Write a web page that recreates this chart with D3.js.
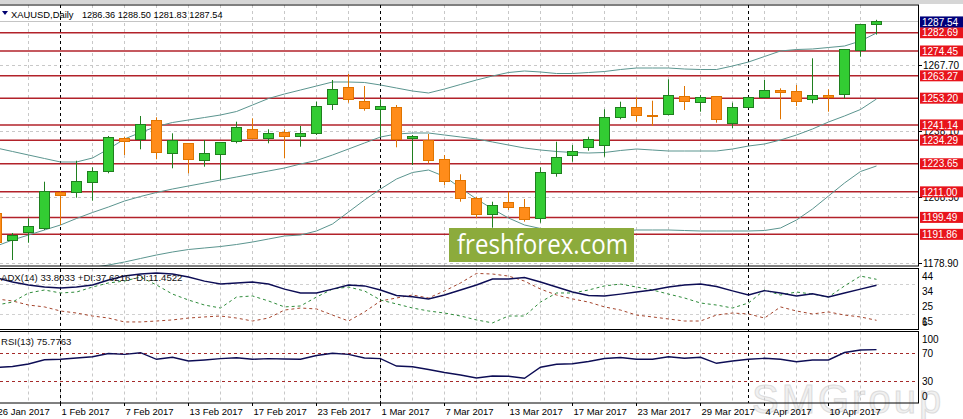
<!DOCTYPE html>
<html><head><meta charset="utf-8">
<script src="https://cdn.jsdelivr.net/npm/d3@7"></script>
<style>body{margin:0;background:#fff;overflow:hidden}svg{display:block}text{font-family:"Liberation Sans",Arial,sans-serif}</style>
</head><body><svg id="c" width="963" height="419"></svg>
<script>
const symbol = "XAUUSD,Daily";
const dates = ["2017-01-26","2017-01-27","2017-01-30","2017-01-31","2017-02-01","2017-02-02","2017-02-03","2017-02-06","2017-02-07","2017-02-08","2017-02-09","2017-02-10","2017-02-13","2017-02-14","2017-02-15","2017-02-16","2017-02-17","2017-02-20","2017-02-21","2017-02-22","2017-02-23","2017-02-24","2017-02-27","2017-02-28","2017-03-01","2017-03-02","2017-03-03","2017-03-06","2017-03-07","2017-03-08","2017-03-09","2017-03-10","2017-03-13","2017-03-14","2017-03-15","2017-03-16","2017-03-17","2017-03-20","2017-03-21","2017-03-22","2017-03-23","2017-03-24","2017-03-27","2017-03-28","2017-03-29","2017-03-30","2017-03-31","2017-04-03","2017-04-04","2017-04-05","2017-04-06","2017-04-07","2017-04-10","2017-04-11","2017-04-12","2017-04-13"];
const open  = [1201.47,1189.00,1192.60,1194.27,1210.62,1210.80,1215.30,1220.08,1235.12,1234.36,1242.92,1228.37,1232.87,1225.03,1228.05,1233.59,1239.18,1235.12,1237.82,1235.84,1237.37,1250.44,1257.92,1251.92,1248.19,1249.09,1235.03,1233.91,1225.35,1215.89,1208.10,1200.89,1206.29,1204.04,1199.09,1219.36,1227.60,1231.07,1232.10,1244.58,1249.09,1245.30,1245.93,1253.86,1251.34,1253.86,1241.88,1249.09,1253.41,1256.56,1256.43,1252.69,1254.31,1254.63,1274.58,1286.36];
const high  = [1202.83,1192.47,1199.09,1215.57,1211.38,1225.03,1222.06,1236.16,1235.84,1245.17,1244.58,1237.37,1233.00,1234.36,1233.46,1242.60,1244.13,1239.18,1239.18,1240.66,1251.61,1261.38,1264.09,1258.68,1252.69,1250.12,1236.61,1237.06,1227.60,1218.91,1208.82,1206.56,1211.07,1207.78,1222.06,1233.59,1232.10,1235.84,1248.19,1251.61,1253.59,1252.06,1261.70,1258.68,1254.63,1254.18,1251.16,1253.86,1261.38,1257.64,1259.13,1271.16,1257.19,1275.35,1286.61,1288.50];
const low   = [1186.61,1180.30,1188.09,1193.82,1196.07,1208.37,1207.01,1219.36,1227.60,1230.17,1225.66,1221.61,1219.36,1222.33,1216.34,1232.87,1234.81,1232.87,1226.11,1231.34,1236.61,1247.87,1251.16,1247.55,1235.84,1231.07,1223.10,1223.86,1214.09,1206.56,1199.09,1194.85,1202.83,1197.56,1197.10,1217.83,1224.58,1229.54,1226.83,1243.68,1242.60,1240.66,1245.48,1247.87,1247.10,1242.15,1239.63,1248.64,1253.14,1243.68,1249.67,1250.89,1247.10,1253.14,1271.88,1281.83];
const close = [1188.41,1191.56,1195.30,1211.07,1209.45,1215.57,1220.08,1235.57,1233.59,1241.56,1228.64,1233.91,1225.35,1228.37,1233.14,1240.08,1235.12,1237.37,1235.84,1237.37,1249.67,1257.19,1252.69,1248.64,1249.67,1234.36,1235.71,1225.03,1215.57,1208.10,1200.89,1204.63,1204.04,1198.64,1219.63,1226.56,1229.09,1234.36,1244.58,1249.09,1245.30,1245.03,1254.31,1251.92,1253.59,1243.37,1249.09,1253.41,1256.56,1255.98,1251.92,1254.31,1253.59,1274.90,1286.61,1287.54];
const bbUpper  = [1230.75,1229.18,1227.60,1226.02,1224.45,1224.45,1226.25,1230.30,1234.81,1237.74,1240.44,1242.24,1243.37,1244.49,1245.62,1247.19,1250.12,1253.05,1255.08,1256.88,1258.68,1260.48,1260.48,1260.26,1259.13,1257.78,1256.43,1255.53,1257.33,1259.36,1261.38,1263.19,1264.76,1265.44,1264.99,1264.31,1264.31,1264.76,1265.21,1266.11,1266.79,1266.79,1266.79,1266.34,1266.11,1266.11,1267.69,1269.49,1271.97,1274.45,1275.12,1275.35,1276.02,1276.70,1278.95,1282.56];
const bbMiddle = [1186.61,1189.31,1191.56,1193.82,1196.07,1199.00,1201.70,1204.18,1206.88,1208.91,1210.71,1212.28,1213.64,1214.99,1216.34,1217.69,1219.04,1220.39,1221.74,1223.55,1225.12,1227.60,1230.30,1233.01,1235.71,1237.06,1237.51,1237.51,1236.61,1235.71,1234.81,1233.46,1232.10,1230.75,1229.85,1229.18,1228.73,1228.50,1228.73,1229.63,1230.30,1229.85,1229.40,1229.40,1229.40,1229.40,1230.30,1231.65,1232.56,1234.36,1236.61,1239.31,1242.47,1245.17,1248.10,1252.83];
const bbLower  = [1162.28,1165.89,1169.04,1171.74,1174.00,1175.80,1176.92,1178.05,1179.40,1180.98,1182.56,1183.91,1185.03,1185.71,1186.38,1187.28,1188.41,1189.76,1191.11,1191.56,1193.37,1196.52,1201.92,1207.33,1212.28,1216.79,1219.72,1220.84,1217.92,1212.74,1207.78,1203.28,1199.22,1196.07,1194.49,1193.82,1193.14,1192.92,1192.92,1193.37,1193.82,1193.82,1193.82,1193.59,1193.37,1193.37,1193.37,1193.37,1193.59,1194.72,1198.32,1203.28,1209.13,1214.99,1220.17,1222.65];
const adx     = [38.5,35.9,34.0,32.7,32.1,32.7,34.0,37.2,39.7,41.0,41.65,41.0,39.1,36.5,34.6,35.3,35.9,34.6,31.4,28.9,28.9,31.4,34.0,33.4,30.8,27.3,26.5,25.1,27.6,30.8,34.0,37.8,37.8,38.8,35.9,32.7,29.5,27.3,27.0,28.2,29.5,30.8,32.7,34.0,34.6,33.0,30.2,27.6,30.4,28.9,27.0,28.4,26.3,28.9,31.4,33.8033];
const plusDI  = [21.2,23.1,28.9,30.8,28.9,29.5,32.7,35.3,36.5,39.1,34.0,28.2,24.4,21.2,19.3,26.3,27.0,23.8,20.0,20.6,26.3,31.4,32.7,30.2,24.4,21.9,19.3,17.4,16.1,14.2,11.7,9.8,14.2,14.2,23.1,28.9,28.9,30.8,33.4,34.6,32.7,30.8,28.2,25.7,22.5,21.2,19.3,22.5,30.8,27.6,29.5,28.2,26.3,33.4,39.7,37.6216];
const minusDI = [25.1,23.8,21.2,20.0,17.4,16.1,14.2,12.9,10.4,10.4,11.0,11.7,12.9,13.6,14.2,12.9,11.0,12.9,18.0,19.3,18.7,14.8,11.0,16.8,23.8,25.7,27.6,25.7,30.2,35.3,41.4,41.0,39.7,36.5,31.4,27.6,25.1,23.1,20.0,18.0,14.8,13.6,12.3,11.0,11.0,14.8,16.1,15.5,12.9,20.0,17.4,15.5,16.8,14.8,13.6,11.4522];
const rsi     = [50.3,51.7,55.3,61.3,62.0,63.9,65.7,70.3,69.1,71.4,62.0,64.9,59.6,61.0,62.9,64.3,62.0,62.9,62.4,62.0,67.4,70.6,69.1,63.9,62.9,52.4,51.4,47.4,43.1,39.6,35.3,38.1,37.7,34.9,50.6,54.9,55.7,58.9,63.1,64.6,62.0,62.0,65.7,63.4,64.9,56.3,59.6,62.0,63.4,62.0,58.6,61.0,61.0,71.7,75.3,75.7763];
const levels     = [1282.69,1274.45,1263.27,1253.20,1241.14,1234.29,1223.65,1211.00,1199.49,1191.86];
const priceTicks = [1267.70,1238.10,1208.50,1178.90];
const adxTicks   = [44,34,25,15];
const adxGrid    = [34,15];
const adxMinLabel = "6";
const rsiTicks   = [100,70,30,0];
const rsiLevels  = [70,30];

const svg = d3.select("#c");
const n = dates.length;
const R = 918;
const parse = d3.timeParse("%Y-%m-%d");
const fmt = d3.timeFormat("%-d %b %Y");
const x = d3.scalePoint().domain(dates).range([-3.5, -3.5 + 16*(n-1)]);
const main = {t:5, b:266}, pA = {t:268.5, b:329.5}, pR = {t:331.5, b:403};
const yP = d3.scaleLinear().domain([1177.60,1295.17]).range([266,5]);
const yA = d3.scaleLinear().domain([5.58,44.21]).range([329.5,269]);
const yR = d3.scaleLinear().domain([0,100]).range([402.7,332.7]);
const cr = v => Math.round(v - 0.5) + 0.5;

svg.append("rect").attr("x",0).attr("y",0).attr("width",963).attr("height",4).attr("fill","#d6d6d6");

// SMGroup watermark (behind everything)
svg.append("text").attr("x",752).attr("y",413).style("font-size","40px").style("letter-spacing","3px")
  .attr("fill","#f1f1f1").attr("stroke","#dcdcdc").attr("stroke-width",1).text("SMGroup");

const defs = svg.append("defs");
[["cm",main],["ca",pA],["crs",pR]].forEach(([id,p])=>{
  defs.append("clipPath").attr("id",id).append("rect").attr("x",0).attr("y",p.t).attr("width",R).attr("height",p.b-p.t);
});

// vertical grid across all panels
const grid = svg.append("g");
dates.forEach((d,i)=>{
  if(i%2===0){
    [main,pA,pR].forEach(p=>grid.append("line").attr("x1",x(d)).attr("x2",x(d)).attr("y1",p.t).attr("y2",p.b)
      .attr("stroke","#c8c8c8").attr("stroke-dasharray","3,3"));
  }
});
priceTicks.forEach(v=>grid.append("line").attr("x1",0).attr("x2",R).attr("y1",cr(yP(v))).attr("y2",cr(yP(v)))
  .attr("stroke","#c8c8c8").attr("stroke-dasharray","3,3"));
adxGrid.forEach(v=>grid.append("line").attr("x1",0).attr("x2",R).attr("y1",cr(yA(v))).attr("y2",cr(yA(v)))
  .attr("stroke","#d0d0d0").attr("stroke-dasharray","3,3"));
// bid line
grid.append("line").attr("x1",0).attr("x2",R).attr("y1",cr(yP(close[n-1]))).attr("y2",cr(yP(close[n-1])))
  .attr("stroke","#c4c4c4");

// month separators
const sep = svg.append("g");
dates.forEach((d,i)=>{
  if(i>0 && parse(d).getMonth()!==parse(dates[i-1]).getMonth()){
    sep.append("line").attr("x1",x(d)).attr("x2",x(d)).attr("y1",main.t).attr("y2",pR.b)
      .attr("stroke","#000").attr("stroke-dasharray","3,3");
  }
});

// level lines
const gm = svg.append("g").attr("clip-path","url(#cm)");
levels.forEach(v=>gm.append("line").attr("x1",0).attr("x2",R).attr("y1",yP(v)).attr("y2",yP(v))
  .attr("stroke","#b2222a").attr("stroke-width",1.5));

// bollinger
const idx = d3.range(n);
const lineP = arr => d3.line().x(i=>x(dates[i])).y(i=>yP(arr[i]))(idx);
[bbUpper,bbMiddle,bbLower].forEach(arr=>gm.append("path").attr("d",lineP(arr)).attr("fill","none")
  .attr("stroke","#5b958f").attr("stroke-width",1));

// candles
idx.forEach(i=>{
  const up = close[i] >= open[i];
  const cx = x(dates[i]);
  const stroke = up ? "#1f7f1f" : "#e07400";
  const fill = up ? "#33cc33" : "#ff8c1a";
  gm.append("line").attr("x1",cx).attr("x2",cx).attr("y1",yP(high[i])).attr("y2",yP(low[i])).attr("stroke",stroke);
  const y1 = cr(yP(Math.max(open[i],close[i]))), y2 = cr(yP(Math.min(open[i],close[i])));
  gm.append("rect").attr("x",cx-5).attr("y",y1).attr("width",10).attr("height",Math.max(1,y2-y1))
    .attr("fill",fill).attr("stroke",stroke);
});

// freshforex watermark
svg.append("rect").attr("x",449).attr("y",228).attr("width",185).attr("height",34).attr("fill","#8cab3c");
svg.append("text").attr("x",457).attr("y",254).attr("fill","#fff").style("font-family","'Open Sans',sans-serif")
  .style("font-size","27px").attr("textLength",171).attr("lengthAdjust","spacingAndGlyphs").text("freshforex.com");

// header
svg.append("path").attr("d","M2,11 L8,11 L5,15 Z").attr("fill","#000070");
svg.append("text").attr("x",11).attr("y",17.5).style("font-size","9.4px").attr("fill","#000").text(symbol);
svg.append("text").attr("x",82).attr("y",17.5).style("font-size","9.2px").attr("fill","#000")
  .text([open,high,low,close].map(a=>a[n-1].toFixed(2)).join(" "));

// ADX panel
const ga = svg.append("g").attr("clip-path","url(#ca)");
const lineA = arr => d3.line().x(i=>x(dates[i])).y(i=>yA(arr[i]))(idx);
ga.append("path").attr("d",lineA(minusDI)).attr("fill","none").attr("stroke","#a5452d").attr("stroke-dasharray","3,3");
ga.append("path").attr("d",lineA(plusDI)).attr("fill","none").attr("stroke","#2e8b3a").attr("stroke-dasharray","3,3");
ga.append("path").attr("d",lineA(adx)).attr("fill","none").attr("stroke","#0d0d55").attr("stroke-width",1.4);
svg.append("text").attr("x",1).attr("y",280.5).style("font-size","9.6px").attr("fill","#111")
  .text(`ADX(14) ${adx[n-1].toFixed(4)} +DI:${plusDI[n-1].toFixed(4)} -DI:${minusDI[n-1].toFixed(4)}`);

// RSI panel
const gr = svg.append("g").attr("clip-path","url(#crs)");
rsiLevels.forEach(v=>gr.append("line").attr("x1",0).attr("x2",R).attr("y1",cr(yR(v))).attr("y2",cr(yR(v)))
  .attr("stroke","#a52a2a").attr("stroke-dasharray","3,3"));
gr.append("path").attr("d",d3.line().x(i=>x(dates[i])).y(i=>yR(rsi[i]))(idx)).attr("fill","none")
  .attr("stroke","#0d0d55").attr("stroke-width",1.4);
svg.append("text").attr("x",1).attr("y",344.5).style("font-size","9.6px").attr("fill","#111")
  .text(`RSI(13) ${rsi[n-1].toFixed(4)}`);

// frames
[main,pA,pR].forEach(p=>{
  svg.append("rect").attr("x",-1).attr("y",p.t).attr("width",R+1.5).attr("height",p.b-p.t)
    .attr("fill","none").attr("stroke","#000");
});

// right axis
const ax = svg.append("g").style("font-size","10px");
priceTicks.forEach(v=>{
  const yy = cr(yP(v));
  ax.append("line").attr("x1",R).attr("x2",R+4).attr("y1",yy).attr("y2",yy).attr("stroke","#000");
  ax.append("text").attr("x",923).attr("y",yy+3.5).attr("fill","#000").text(v.toFixed(2));
});
levels.forEach(v=>{
  const yy = yP(v);
  ax.append("rect").attr("x",920).attr("y",yy-5.5).attr("width",43).attr("height",11).attr("fill","#e8141c");
  ax.append("text").attr("x",922).attr("y",yy+3.7).attr("fill","#fff").text(v.toFixed(2));
});
{
  const yy = yP(close[n-1]);
  ax.append("rect").attr("x",920).attr("y",yy-5.5).attr("width",43).attr("height",11).attr("fill","#00007a");
  ax.append("text").attr("x",922).attr("y",yy+3.7).attr("fill","#fff").text(close[n-1].toFixed(2));
}
adxTicks.forEach(v=>{
  const yy = Math.max(pA.t+7.5, Math.min(pA.b-7, yA(v)+7));
  ax.append("text").attr("x",922).attr("y",yy+3.5).attr("fill","#000").text(v);
});
ax.append("text").attr("x",922).attr("y",pA.b-7+3.5).attr("fill","#000").text(adxMinLabel);
rsiTicks.forEach(v=>{
  const yy = Math.max(pR.t+7.5, Math.min(pR.b-7, yR(v)));
  ax.append("text").attr("x",922).attr("y",yy+3.5).attr("fill","#000").text(v);
});

// date axis
const da = svg.append("g").style("font-size","9.5px");
dates.forEach((d,i)=>{
  if(i%4===0){
    da.append("line").attr("x1",x(d)).attr("x2",x(d)).attr("y1",pR.b).attr("y2",pR.b+3).attr("stroke","#000");
    da.append("text").attr("x",x(d)+1).attr("y",415).attr("fill","#000").text(fmt(parse(d)));
  }
});
</script></body></html>
